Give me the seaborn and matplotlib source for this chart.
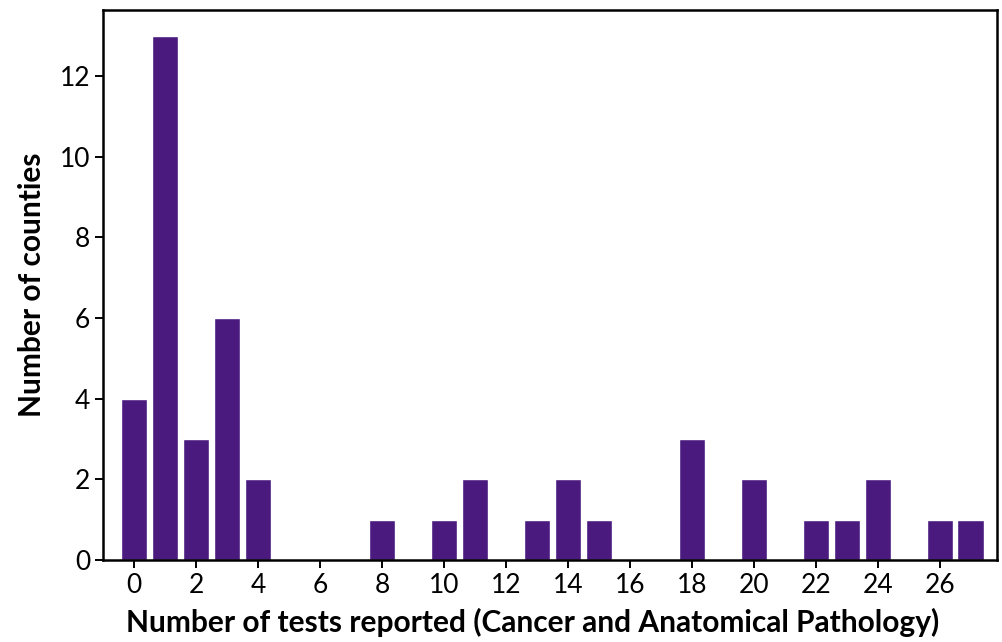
import matplotlib
matplotlib.use("Agg")
import matplotlib.pyplot as plt
import seaborn as sns
import pandas as pd

# values
tests = [0, 1, 2, 3, 4, 8, 10, 11, 13, 14, 15, 18, 20, 22, 23, 24, 26, 27]
counties = [4, 13, 3, 6, 2, 1, 1, 2, 1, 2, 1, 3, 2, 1, 1, 2, 1, 1]
xticks = list(range(0, 27, 2))

df = pd.DataFrame({"tests": tests, "counties": counties})

sns.set_style("ticks", {"axes.edgecolor": "black", "xtick.color": "black",
                        "ytick.color": "black", "text.color": "black",
                        "axes.labelcolor": "black"})
plt.rcParams["font.family"] = ["Lato", "DejaVu Sans"]

fig, ax = plt.subplots(figsize=(10.03, 6.42), dpi=100)
sns.barplot(data=df, x="tests", y="counties", native_scale=True,
            color="#4a1a7e", saturation=1, width=0.85, ax=ax)

ax.set_xlim(-1.0, 27.85)
ax.set_ylim(0, 13.65)
ax.set_xticks(xticks)
ax.set_yticks(range(0, 13, 2))
ax.tick_params(labelsize=19, length=6, width=1.4)
for s in ax.spines.values():
    s.set_visible(True)
    s.set_linewidth(1.8)
ax.set_xlabel("Number of tests reported (Cancer and Anatomical Pathology)",
              fontsize=21.5, fontweight="bold")
ax.xaxis.set_label_coords(0.48, -0.088)
ax.set_ylabel("Number of counties", fontsize=21.5, fontweight="bold", labelpad=10)

fig.subplots_adjust(left=0.103, right=0.994, top=0.985, bottom=0.128)
fig.savefig("out.png", dpi=100)
